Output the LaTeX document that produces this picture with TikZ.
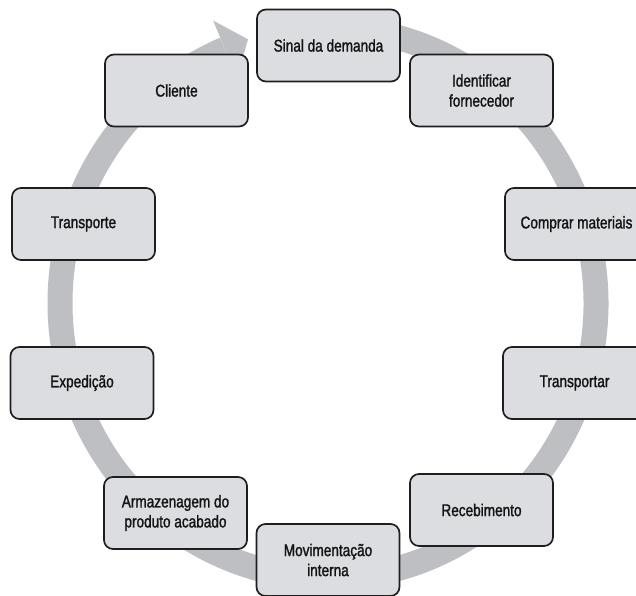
\documentclass[tikz,border=0pt]{standalone}
\usepackage{fontspec}
\setmainfont{Liberation Sans}[FakeStretch=0.8, FakeBold=1.4]
\usetikzlibrary{calc}
\definecolor{ringgray}{RGB}{190,191,195}
\definecolor{boxfill}{RGB}{220,221,224}
\definecolor{boxline}{RGB}{30,30,30}
\definecolor{txt}{RGB}{20,20,20}
\begin{document}
\begin{tikzpicture}[x=1pt,y=1pt,
  stagebox/.style={draw=boxline, line width=1.7pt, fill=boxfill, rounded corners=9pt,
    minimum width=143pt, minimum height=72pt, align=center, text=txt,
    font=\fontsize{17}{20}\selectfont, inner sep=0pt},
  ring/.style={draw=ringgray, line width=25pt}]
\useasboundingbox (0,0) rectangle (636,595);
\coordinate (C) at (328,292);
\draw[ring] ($(C)+(95:268 and 275)$) arc[start angle=95, end angle=-247.4, x radius=268, y radius=275];
\coordinate (B) at ($(C)+(112.6:268 and 275)$);
\coordinate (barbA) at ($(B)+(-11.9,28.6)$);
\coordinate (barbB) at ($(B)+(11.9,-28.6)$);
\coordinate (tip) at ($(B)+(23,9.8)$);
\fill[ringgray] (barbA) -- (tip) -- (barbB) -- cycle;
\node[stagebox] (sinal) at (328.5,549.5) {Sinal da demanda};
\node[stagebox] (ident) at (481.5,504.5) {Identificar\\fornecedor};
\node[stagebox] (cliente) at (176.5,504.5) {Cliente};
\node[stagebox] (transporte) at (83.5,371) {Transporte};
\node[stagebox] (comprar) at (576.5,371) {Comprar materiais};
\node[stagebox] (exped) at (82,212) {Expedição};
\node[stagebox] (transportar) at (574.5,212) {Transportar};
\node[stagebox] (armaz) at (175.5,82) {Armazenagem do\\produto acabado};
\node[stagebox] (receb) at (481.5,85) {Recebimento};
\node[stagebox] (movim) at (328,35) {Movimentação\\interna};
\end{tikzpicture}
\end{document}
